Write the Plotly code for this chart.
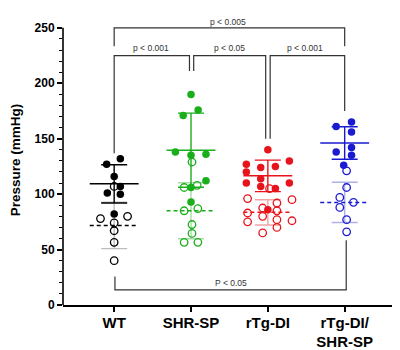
import numpy as np
import plotly.graph_objects as go

# ---------------- data ----------------
groups = ["WT", "SHR-SP", "rTg-DI", "rTg-DI/<br>SHR-SP"]

# filled circles
wt_filled = [127, 132, 116, 107, 101, 100, 82]
shr_filled = [190, 176, 171, 138, 135, 136, 112, 106, 93]
rtg_filled = [140, 127, 130, 120, 124, 125, 110, 114, 110, 107, 105, 86]
dbl_filled = [161, 165, 156, 138, 142, 135, 126]

# open circles
wt_open = [107, 78, 80, 74, 67, 56.5, 40]
shr_open = [129, 106, 108, 85, 87, 72.6, 64.6, 56.5, 56.5]
rtg_open = [105, 96, 95, 87.5, 92, 85, 83, 80, 77, 75, 76, 70, 65]
dbl_open = [121, 106, 97, 92.6, 88, 77, 66]

# statistical comparisons (group index pairs, label)
comparisons = [
    (0, 3, "p < 0.005"),
    (0, 1, "p < 0.001"),
    (1, 2, "p < 0.05"),
    (2, 3, "p < 0.001"),
    (0, 3, "P < 0.05"),
]

# ---------------- layout / style (positions, sizes) ----------------
PX = 78.6  # pixels per category unit
# horizontal scatter offsets of points (pixels), same order as values
wt_filled_dx = [-7.7, 6.3, 0, 6.3, -7, 6.3, 0]
shr_filled_dx = [0, 7.3, -8, -16, 0, 15.3, 15.3, 0, 0]
rtg_filled_dx = [0, -22, 22, -22, -7.3, 7.7, -22, -7.3, 22, -7.3, 7.7, 0]
dbl_filled_dx = [-8.7, 7, 7, -8.7, 7, 7, -1]
wt_open_dx = [0, -14, 13.7, 0, 0, 0, 0]
shr_open_dx = [1, -7, 6.3, -7, 7, 1, 1, -7, 7]
rtg_open_dx = [1.7, -20.7, 24.7, -5.3, 9.3, 9.3, -20.7, -5.3, 9.3, -20.7, 24.7, 9.3, -5.3]
dbl_open_dx = [2, 2, -5, 9, -5, 2, 2]

colors = ["#000000", "#1aae1a", "#e8141c", "#1a1ad0"]
light = ["#bdbdbd", "#a6dca6", "#f2a4a6", "#aeb0ea"]

filled = [wt_filled, shr_filled, rtg_filled, dbl_filled]
opened = [wt_open, shr_open, rtg_open, dbl_open]
filled_dx = [wt_filled_dx, shr_filled_dx, rtg_filled_dx, dbl_filled_dx]
open_dx = [wt_open_dx, shr_open_dx, rtg_open_dx, dbl_open_dx]

FONT = "Liberation Sans, Arial, sans-serif"
Y_TOP = 250 * (308 - 15) / (308 - 28)

fig = go.Figure()

MEAN_HW = 25 / PX
for i in range(4):
    for vals, col, dash, sdcol in [
        (opened[i], colors[i], "dash", light[i]),
        (filled[i], colors[i], "solid", colors[i]),
    ]:
        v = np.array(vals, dtype=float)
        m, sd = v.mean(), v.std(ddof=1)
        # SD bar
        fig.add_trace(go.Scatter(
            x=[i], y=[m], mode="markers",
            marker=dict(size=1, color="rgba(0,0,0,0)"),
            error_y=dict(type="data", array=[sd], visible=True,
                         color=sdcol, thickness=1.4, width=13),
            showlegend=False, hoverinfo="skip"))
        # mean line
        fig.add_trace(go.Scatter(
            x=[i - MEAN_HW, i + MEAN_HW], y=[m, m], mode="lines",
            line=dict(color=col, width=1.5, dash=dash if dash == "solid" else "4px,3px"),
            showlegend=False, hoverinfo="skip"))

for i in range(4):
    fig.add_trace(go.Scatter(
        x=[i + d / PX for d in open_dx[i]], y=opened[i], mode="markers",
        marker=dict(symbol="circle-open", size=7.5, color=colors[i],
                    line=dict(width=1.3, color=colors[i])),
        showlegend=False))
    fig.add_trace(go.Scatter(
        x=[i + d / PX for d in filled_dx[i]], y=filled[i], mode="markers",
        marker=dict(symbol="circle", size=7.5, color=colors[i]),
        showlegend=False))

# brackets: (x_left, x_right, y_bar, y_left_end, y_right_end, text_x, text_y)
bracket_geom = [
    (0.0, 3.0, 250, 233.5, 233.5, 1.48, 255.6),
    (0.0, 0.98, 225, 137, 211, 0.48, 231.9),
    (1.035, 1.972, 225, 211, 150, 1.5, 231.9),
    (2.03, 3.0, 225, 150, 175, 2.49, 231.9),
    (0.01, 3.02, 13.7, 25.6, 58.3, 1.52, 19.9),
]
BR = "#333333"
for (a, b, label), (xl, xr, yb, yl, yr, tx, ty) in zip(comparisons, bracket_geom):
    fig.add_trace(go.Scatter(
        x=[xl, xl, xr, xr], y=[yl, yb, yb, yr], mode="lines",
        line=dict(color=BR, width=1.2), showlegend=False, hoverinfo="skip",
        cliponaxis=False))
    fig.add_annotation(x=tx, y=ty, text=label, showarrow=False,
                       font=dict(family=FONT, size=8.5, color=BR),
                       xanchor="center", yanchor="middle")

# y axis line only up to 250
fig.add_shape(type="line", xref="paper", yref="paper", x0=0, x1=0,
              y0=0, y1=250 / Y_TOP, line=dict(color="black", width=1.6))

# the page body has an 8px margin, so the figure is 8px smaller each way
fig.update_layout(
    width=392, height=342,
    margin=dict(l=47, r=0, t=7, b=42),
    plot_bgcolor="white", paper_bgcolor="white",
    font=dict(family=FONT, color="black"),
    xaxis=dict(range=[-0.666, 3.72], tickmode="array", tickvals=[0, 1, 2, 3],
               ticktext=groups, ticks="outside", ticklen=5, tickwidth=1.5,
               tickcolor="black", showline=True, linecolor="black", linewidth=1.6,
               showgrid=False, zeroline=False, ticklabelstandoff=-2,
               tickfont=dict(family=FONT, size=15, weight="bold", color="black")),
    yaxis=dict(range=[0, Y_TOP], tickmode="array",
               tickvals=[0, 50, 100, 150, 200, 250],
               ticks="outside", ticklen=5, tickwidth=1.5, tickcolor="black",
               showline=False, showgrid=False, zeroline=False,
               minor=dict(tickmode="array",
                          tickvals=[v for v in range(10, 250, 10) if v % 50],
                          ticks="outside", ticklen=3, tickwidth=1.2, tickcolor="black"),
               tickfont=dict(family=FONT, size=12, weight="bold", color="black"),
               title=dict(text="Pressure (mmHg)", standoff=17,
                          font=dict(family=FONT, size=13.5, weight="bold", color="black"))),
)

fig.write_html("out.html")
